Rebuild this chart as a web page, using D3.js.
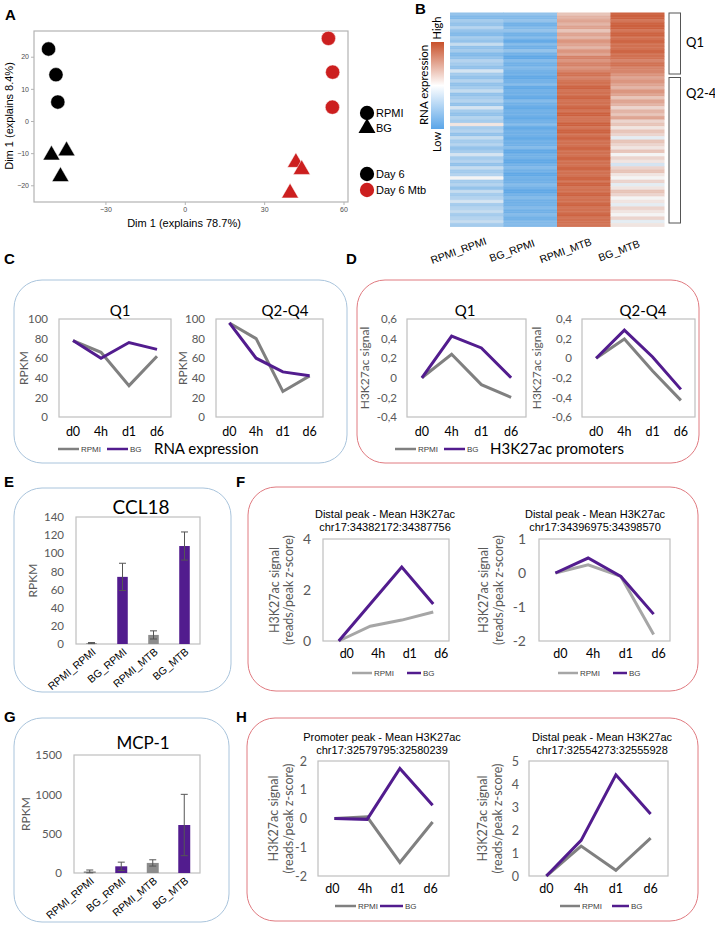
<!DOCTYPE html>
<html><head><meta charset="utf-8">
<script src="https://cdn.jsdelivr.net/npm/d3@7"></script>
<style>body{margin:0;background:#fff}svg{display:block}</style>
</head><body>
<svg id="fig" width="715" height="927"></svg>
<script>
// ---------------- DATA ----------------
// Panel A (PCA)
const pcaX = [-51.5, -48.7, -48.0, -50.4, -44.7, -47.0, 54.3, 55.9, 55.8, 42.0, 44.2, 39.8];
const pcaY = [22.4, 14.4, 5.9, -10.6, -9.3, -17.3, 25.7, 15.2, 4.3, -12.9, -15.1, -22.4];
const pcaShape = ["circle","circle","circle","triangle","triangle","triangle","circle","circle","circle","triangle","triangle","triangle"];
const pcaGroup = ["Day 6","Day 6","Day 6","Day 6","Day 6","Day 6","Day 6 Mtb","Day 6 Mtb","Day 6 Mtb","Day 6 Mtb","Day 6 Mtb","Day 6 Mtb"];
const pcaXTicks = [-30, 0, 30, 60];
const pcaYTicks = [-20, -10, 0, 10, 20];

// Panel B (heatmap), relative expression per row (-1 low .. 1 high)
const heatColumns = ["RPMI_RPMI","BG_RPMI","RPMI_MTB","BG_MTB"];
const heatRPMI_RPMI = [-0.6,-0.7,-0.5,-0.6,-0.4,-0.6,-0.7,-0.5,-0.6,-0.3,-0.6,-0.5,-0.7,-0.6,-0.4,-0.5,-0.6,-0.2,
  -0.5,-0.6,-0.4,-0.6,-0.5,-0.3,-0.6,-0.5,-0.4,-0.6,-0.2,-0.5,-0.6,-0.4,-0.5,0.1,-0.5,-0.4,
  -0.6,-0.3,-0.5,-0.4,-0.6,-0.5,-0.2,-0.5,-0.4,-0.6,-0.3,-0.5,-0.4,0.0,-0.5,-0.4,-0.6,-0.3,
  -0.5,-0.4,-0.2,-0.5,-0.4,-0.3,-0.5,-0.4,-0.3,-0.5];
const heatBG_RPMI = [-0.6,-0.7,-0.6,-0.8,-0.7,-0.6,-0.8,-0.7,-0.9,-0.7,-0.8,-0.6,-0.8,-0.9,-0.7,-0.8,-0.7,-0.8,
  -0.8,-0.9,-0.8,-0.7,-0.9,-0.8,-0.8,-0.9,-0.7,-0.8,-0.9,-0.8,-0.8,-0.9,-0.8,-0.7,-0.9,-0.8,
  -0.8,-0.9,-0.8,-0.8,-0.7,-0.9,-0.8,-0.8,-0.9,-0.8,-0.7,-0.8,-0.9,-0.8,-0.8,-0.7,-0.8,-0.9,
  -0.8,-0.7,-0.8,-0.8,-0.7,-0.8,-0.7,-0.8,-0.7,-0.7];
const heatRPMI_MTB = [0.3,0.4,0.5,0.4,0.5,0.3,0.5,0.4,0.6,0.5,0.4,0.6,0.5,0.7,0.6,0.7,0.6,0.7,
  0.8,0.7,0.8,0.8,0.9,0.8,0.8,0.9,0.8,0.8,0.9,0.8,0.9,0.8,0.8,0.9,0.8,0.9,
  0.8,0.9,0.8,0.8,0.9,0.8,0.8,0.9,0.8,0.8,0.9,0.8,0.8,0.9,0.8,0.9,0.8,0.8,
  0.9,0.8,0.8,0.9,0.8,0.8,0.9,0.8,0.8,0.8];
const heatBG_MTB = [0.9,0.9,0.8,0.9,0.9,0.8,0.9,0.8,0.9,0.8,0.8,0.9,0.8,0.8,0.7,0.8,0.7,0.7,
  0.6,0.5,0.6,0.5,0.4,0.6,0.5,0.3,0.5,0.4,0.2,0.4,0.3,0.5,0.2,0.3,0.1,0.3,
  0.2,-0.1,0.3,0.2,0.1,0.3,0.0,0.2,0.1,-0.2,0.2,0.3,0.1,0.0,0.2,-0.1,0.1,0.3,
  0.2,0.0,0.1,-0.1,0.2,0.1,0.0,0.2,-0.1,0.1];
const heatGroups = ["Q1","Q2-4"];

// Line panels
const timepoints = ["d0","4h","d1","d6"];
const cQ1_RPMI = [78, 66, 32, 62],   cQ1_BG = [78, 60, 76, 69];
const cQ24_RPMI = [96, 80, 26, 42],  cQ24_BG = [96, 60, 46, 42];
const dQ1_RPMI = [0, 0.24, -0.07, -0.2],  dQ1_BG = [0, 0.425, 0.305, 0];
const dQ24_RPMI = [0, 0.195, -0.13, -0.43], dQ24_BG = [0, 0.287, 0.013, -0.318];
const fL_RPMI = [0, 0.58, 0.82, 1.14], fL_BG = [0, 1.45, 2.9, 1.45];
const fR_RPMI = [0, 0.24, -0.1, -1.81], fR_BG = [0, 0.44, -0.1, -1.21];
const hL_RPMI = [0, 0.06, -1.53, -0.12], hL_BG = [0, -0.03, 1.74, 0.46];
const hR_RPMI = [0, 1.3, 0.25, 1.65], hR_BG = [0, 1.55, 4.4, 2.7];

// Bar panels
const barCategories = ["RPMI_RPMI","BG_RPMI","RPMI_MTB","BG_MTB"];
const ccl18Values = [1, 74, 10, 108], ccl18Err = [0.6, 15, 4.5, 15.5];
const mcp1Values = [20, 85, 128, 610], mcp1Err = [18, 53, 40, 390];

// ---------------- DRAW ----------------
const svg = d3.select("#fig");
const ARIAL = "'Liberation Sans', Arial, sans-serif";
const CAL = "Lato, 'Open Sans', sans-serif";
const PURPLE = "#521c8e", GREY = "#808080", TICK = "#595959";

function panelLabel(t, x, y) {
  svg.append("text").attr("x", x).attr("y", y).text(t)
    .attr("font-family", ARIAL).attr("font-weight", "bold").attr("font-size", 15).attr("fill", "#000");
}
function box(x0, y0, x1, y1, color) {
  svg.append("rect").attr("x", x0).attr("y", y0).attr("width", x1 - x0).attr("height", y1 - y0)
    .attr("rx", 28).attr("ry", 28).attr("fill", "none").attr("stroke", color).attr("stroke-width", 1);
}

// ---- Panel A ----
panelLabel("A", 5, 20);
{
  const x = d3.scaleLinear().domain([-57, 61.7]).range([34, 348]);
  const y = d3.scaleLinear().domain([-25.2, 28]).range([202, 31]);
  const g = svg.append("g");
  g.append("rect").attr("x", 34).attr("y", 31).attr("width", 314).attr("height", 171)
    .attr("fill", "#fff").attr("stroke", "#b3b3b3").attr("stroke-width", 1.2);
  const ax = g.append("g").attr("transform", "translate(0,202)")
    .call(d3.axisBottom(x).tickValues(pcaXTicks).tickSize(3).tickSizeOuter(0).tickPadding(2));
  const ay = g.append("g").attr("transform", "translate(34,0)")
    .call(d3.axisLeft(y).tickValues(pcaYTicks).tickSize(3).tickSizeOuter(0).tickPadding(2));
  [ax, ay].forEach(a => {
    a.select(".domain").remove();
    a.selectAll("line").attr("stroke", "#b3b3b3");
    a.selectAll("text").attr("font-family", ARIAL).attr("font-size", 7).attr("fill", "#4d4d4d");
  });
  const sym = d3.symbol();
  pcaX.forEach((v, i) => {
    const tri = pcaShape[i] === "triangle";
    g.append("path")
      .attr("d", sym.type(tri ? d3.symbolTriangle : d3.symbolCircle).size(tri ? 125 : 160)())
      .attr("transform", `translate(${x(v)},${y(pcaY[i])})`)
      .attr("fill", pcaGroup[i] === "Day 6" ? "#000" : "#cc1f1f")
      .attr("stroke", "#fff").attr("stroke-width", 0.5);
  });
  svg.append("text").attr("transform", "translate(13,116) rotate(-90)").attr("text-anchor", "middle")
    .attr("font-family", ARIAL).attr("font-size", 11).text("Dim 1 (explains 8.4%)");
  svg.append("text").attr("x", 184).attr("y", 227).attr("text-anchor", "middle")
    .attr("font-family", ARIAL).attr("font-size", 11).text("Dim 1 (explains 78.7%)");
  // legend
  const leg = [["circle", "#000", "RPMI", 113], ["triangle", "#000", "BG", 128], ["circle", "#000", "Day 6", 174], ["circle", "#cc1f1f", "Day 6 Mtb", 190]];
  leg.forEach(l => {
    const tri = l[0] === "triangle";
    svg.append("path").attr("d", sym.type(tri ? d3.symbolTriangle : d3.symbolCircle).size(tri ? 125 : 160)())
      .attr("transform", `translate(367,${l[3]})`).attr("fill", l[1]);
    svg.append("text").attr("x", 376).attr("y", l[3] + 4).attr("font-family", ARIAL).attr("font-size", 11).text(l[2]);
  });
}

// ---- Panel B ----
panelLabel("B", 415, 14);
{
  const cols = [heatRPMI_RPMI, heatBG_RPMI, heatRPMI_MTB, heatBG_MTB];
  const color = d3.scaleLinear().domain([-1, 0, 1]).range(["#4f9fe4", "#f4f4f4", "#c8502a"]);
  const x = d3.scaleBand().domain(heatColumns).range([450, 664]);
  const nRows = heatBG_MTB.length;
  const y = d3.scaleBand().domain(d3.range(nRows)).range([12.5, 226.5]);
  const g = svg.append("g");
  heatColumns.forEach((c, ci) => {
    g.selectAll(null).data(cols[ci]).join("rect")
      .attr("x", x(c)).attr("width", x.bandwidth() + 0.5)
      .attr("y", (d, i) => y(i)).attr("height", y.bandwidth() + 0.4)
      .attr("fill", d => color(d));
  });
  // thin row striping for texture
  g.selectAll(null).data(d3.range(nRows)).join("line")
    .attr("x1", 450).attr("x2", 664)
    .attr("y1", i => y(i) + y.bandwidth() * 0.5).attr("y2", i => y(i) + y.bandwidth() * 0.5)
    .attr("stroke", "#fff").attr("stroke-opacity", 0.1).attr("stroke-width", 0.8);
  // colour bar
  const defs = svg.append("defs");
  const grad = defs.append("linearGradient").attr("id", "cb").attr("x1", 0).attr("y1", 1).attr("x2", 0).attr("y2", 0);
  [[0, "#5aa5e8"], [0.5, "#ffffff"], [1, "#c8502a"]].forEach(s => grad.append("stop").attr("offset", s[0]).attr("stop-color", s[1]));
  svg.append("rect").attr("x", 431).attr("y", 42).attr("width", 13).attr("height", 87).attr("fill", "url(#cb)");
  svg.append("text").attr("transform", "translate(441,28) rotate(-90)").attr("text-anchor", "middle")
    .attr("font-family", CAL).attr("font-size", 11).text("High");
  svg.append("text").attr("transform", "translate(441,142) rotate(-90)").attr("text-anchor", "middle")
    .attr("font-family", CAL).attr("font-size", 11).text("Low");
  svg.append("text").attr("transform", "translate(428,85) rotate(-90)").attr("text-anchor", "middle")
    .attr("font-family", CAL).attr("font-size", 11.5).text("RNA expression");
  // brackets
  const yg = d3.scaleOrdinal().domain(heatGroups).range([[13, 74], [77.5, 223]]);
  heatGroups.forEach(gr => {
    const r = yg(gr);
    svg.append("rect").attr("x", 669).attr("y", r[0]).attr("width", 11.5).attr("height", r[1] - r[0])
      .attr("fill", "none").attr("stroke", "#555").attr("stroke-width", 1);
  });
  svg.append("text").attr("x", 686).attr("y", 47).attr("font-family", CAL).attr("font-size", 13).text(heatGroups[0]);
  svg.append("text").attr("x", 686).attr("y", 98).attr("font-family", CAL).attr("font-size", 13).text(heatGroups[1]);
  heatColumns.forEach(c => {
    const cx = x(c) + x.bandwidth() / 2;
    svg.append("text").attr("transform", `translate(${cx - 17},${254}) rotate(-20)`).attr("text-anchor", "middle")
      .attr("font-family", ARIAL).attr("font-size", 10.5).text(c);
  });
}

// ---- generic line chart ----
function fmtComma(v) { return Math.abs(v) < 1e-9 ? "0" : v.toFixed(1).replace(".", ","); }
function lineChart(o) {
  const x = d3.scalePoint().domain(timepoints).range([o.x0, o.x1]).padding(0.5);
  const y = d3.scaleLinear().domain(o.domain).range([o.y1, o.y0]);
  const g = svg.append("g");
  g.append("rect").attr("x", o.x0).attr("y", o.y0).attr("width", o.x1 - o.x0).attr("height", o.y1 - o.y0)
    .attr("fill", "none").attr("stroke", "#bfbfbf").attr("stroke-width", 1.2);
  const ay = g.append("g").attr("transform", `translate(${o.x0},0)`)
    .call(d3.axisLeft(y).tickValues(o.ticks).tickSize(0).tickPadding(o.tickPad || 11).tickFormat(o.fmt || (d => d)));
  ay.select(".domain").remove();
  ay.selectAll("text").attr("font-family", CAL).attr("font-size", o.tickSize || 11.5).attr("fill", TICK);
  timepoints.forEach(t => {
    g.append("text").attr("x", x(t) + (o.xdx || 0)).attr("y", o.xlabelY).attr("text-anchor", "middle")
      .attr("font-family", CAL).attr("font-size", 12.5).attr("fill", "#000").text(t);
  });
  const line = d3.line().x((d, i) => x(timepoints[i])).y(d => y(d));
  g.append("path").attr("d", line(o.rpmi)).attr("fill", "none").attr("stroke", o.greyColor || GREY)
    .attr("stroke-width", 3).attr("stroke-linejoin", "miter");
  g.append("path").attr("d", line(o.bg)).attr("fill", "none").attr("stroke", PURPLE)
    .attr("stroke-width", 3).attr("stroke-linejoin", "miter");
  if (o.title) {
    o.title.forEach((t, i) => {
      g.append("text").attr("x", o.titleX).attr("y", o.titleY + i * 13).attr("text-anchor", "middle")
        .attr("font-family", o.titleFont || CAL).attr("font-size", o.titleSize || 15).text(t);
    });
  }
  const cy = (o.y0 + o.y1) / 2;
  o.ytitle.forEach((t, i) => {
    g.append("text").attr("transform", `translate(${o.ytitleX[i]},${cy}) rotate(-90)`).attr("text-anchor", "middle")
      .attr("font-family", CAL).attr("font-size", o.ytitleSize || 12).attr("fill", TICK).text(t);
  });
  if (o.legend) legend(o.legend, o.greyColor);
}
function legend(L, gc) {
  svg.append("line").attr("x1", L.g[0]).attr("x2", L.g[1]).attr("y1", L.y).attr("y2", L.y).attr("stroke", gc || GREY).attr("stroke-width", 2.5);
  svg.append("text").attr("x", L.g[1] + 2).attr("y", L.y + 3).attr("font-family", ARIAL).attr("font-size", 8).attr("fill", "#404040").text("RPMI");
  svg.append("line").attr("x1", L.b[0]).attr("x2", L.b[1]).attr("y1", L.y).attr("y2", L.y).attr("stroke", PURPLE).attr("stroke-width", 2.5);
  svg.append("text").attr("x", L.b[1] + 2).attr("y", L.y + 3).attr("font-family", ARIAL).attr("font-size", 8).attr("fill", "#404040").text("BG");
}

// ---- Panel C ----
panelLabel("C", 4, 264);
box(14, 280, 347, 463, "#a9c4dc");
lineChart({ x0: 59, x1: 171, y0: 319, y1: 417, domain: [0, 100], ticks: [0, 20, 40, 60, 80, 100],
  rpmi: cQ1_RPMI, bg: cQ1_BG, title: ["Q1"], titleX: 120, titleY: 316, xlabelY: 436,
  ytitle: ["RPKM"], ytitleX: [28], legend: { y: 449, g: [58, 79], b: [107, 128] } });
lineChart({ x0: 216, x1: 323, y0: 319, y1: 417, domain: [0, 100], ticks: [0, 20, 40, 60, 80, 100],
  rpmi: cQ24_RPMI, bg: cQ24_BG, title: ["Q2-Q4"], titleX: 285, titleY: 316, xlabelY: 436,
  ytitle: ["RPKM"], ytitleX: [187] });
svg.append("text").attr("x", 154).attr("y", 454).attr("font-family", CAL).attr("font-size", 15).text("RNA expression");

// ---- Panel D ----
panelLabel("D", 346, 264);
box(357, 280, 699, 463, "#e07a80");
lineChart({ x0: 407, x1: 526, y0: 319, y1: 417, domain: [-0.4, 0.6], ticks: [-0.4, -0.2, 0, 0.2, 0.4, 0.6], fmt: fmtComma,
  rpmi: dQ1_RPMI, bg: dQ1_BG, title: ["Q1"], titleX: 465, titleY: 316, xlabelY: 436,
  ytitle: ["H3K27ac signal"], ytitleX: [369], tickPad: 10, legend: { y: 449, g: [395, 416], b: [444, 465] } });
lineChart({ x0: 582, x1: 695, y0: 319, y1: 417, domain: [-0.6, 0.4], ticks: [-0.6, -0.4, -0.2, 0, 0.2, 0.4], fmt: fmtComma,
  rpmi: dQ24_RPMI, bg: dQ24_BG, title: ["Q2-Q4"], titleX: 643, titleY: 316, xlabelY: 436,
  ytitle: ["H3K27ac signal"], ytitleX: [541], tickPad: 10 });
svg.append("text").attr("x", 490).attr("y", 454).attr("font-family", CAL).attr("font-size", 15).text("H3K27ac promoters");

// ---- bar charts ----
function barChart(o) {
  const x = d3.scaleBand().domain(barCategories).range([o.x0, o.x1]).paddingInner(o.pad).paddingOuter(o.pad / 2);
  const y = d3.scaleLinear().domain(o.domain).range([o.y1, o.y0]);
  const g = svg.append("g");
  g.append("rect").attr("x", o.x0).attr("y", o.y0).attr("width", o.x1 - o.x0).attr("height", o.y1 - o.y0)
    .attr("fill", "none").attr("stroke", "#bfbfbf").attr("stroke-width", 1.2);
  const ay = g.append("g").attr("transform", `translate(${o.x0},0)`)
    .call(d3.axisLeft(y).tickValues(o.ticks).tickSize(0).tickPadding(o.tickPad).tickFormat(d3.format("d")));
  ay.select(".domain").remove();
  ay.selectAll("text").attr("font-family", CAL).attr("font-size", 11.5).attr("fill", TICK);
  g.selectAll(null).data(o.values).join("rect")
    .attr("x", (d, i) => x(barCategories[i])).attr("width", x.bandwidth())
    .attr("y", d => y(d)).attr("height", d => y(0) - y(d))
    .attr("fill", (d, i) => barCategories[i].startsWith("BG") ? PURPLE : "#8c8c8c");
  o.values.forEach((v, i) => {
    const cx = x(barCategories[i]) + x.bandwidth() / 2;
    const e = o.err[i];
    const t = y(v + e), b = y(Math.max(0, v - e));
    g.append("line").attr("x1", cx).attr("x2", cx).attr("y1", t).attr("y2", b).attr("stroke", "#555").attr("stroke-width", 1);
    [t, b].forEach(yy => g.append("line").attr("x1", cx - 3.5).attr("x2", cx + 3.5).attr("y1", yy).attr("y2", yy).attr("stroke", "#555").attr("stroke-width", 1));
    g.append("text").attr("transform", `translate(${cx + 5},${o.y1 + 9}) rotate(-40)`).attr("text-anchor", "end")
      .attr("font-family", ARIAL).attr("font-size", 10.5).text(barCategories[i]);
  });
  g.append("text").attr("x", o.titleX).attr("y", o.titleY).attr("text-anchor", "middle")
    .attr("font-family", CAL).attr("font-size", o.titleSize).text(o.title);
  g.append("text").attr("transform", `translate(${o.ytitleX},${(o.y0 + o.y1) / 2}) rotate(-90)`).attr("text-anchor", "middle")
    .attr("font-family", CAL).attr("font-size", 12).attr("fill", TICK).text("RPKM");
}

// ---- Panel E ----
panelLabel("E", 4, 487);
box(14, 488, 231, 692, "#a9c4dc");
barChart({ x0: 76, x1: 200, y0: 517, y1: 644, domain: [0, 140], ticks: d3.range(0, 141, 20), pad: 0.66,
  values: ccl18Values, err: ccl18Err, title: "CCL18", titleX: 141, titleY: 514, titleSize: 19, ytitleX: 37, tickPad: 12 });

// ---- Panel G ----
panelLabel("G", 4, 722);
box(14, 718, 229, 922, "#a9c4dc");
barChart({ x0: 74, x1: 200, y0: 755, y1: 873, domain: [0, 1500], ticks: [0, 500, 1000, 1500], pad: 0.62,
  values: mcp1Values, err: mcp1Err, title: "MCP-1", titleX: 143, titleY: 749, titleSize: 17, ytitleX: 30, tickPad: 12 });

// ---- Panel F ----
panelLabel("F", 236, 487);
box(248, 487, 698, 691, "#e07a80");
lineChart({ x0: 323, x1: 449, y0: 539, y1: 641, domain: [0, 4], ticks: [0, 2, 4], tickSize: 14, tickPad: 12,
  rpmi: fL_RPMI, bg: fL_BG, title: ["Distal peak - Mean H3K27ac", "chr17:34382172:34387756"], titleX: 385, titleY: 518,
  titleFont: ARIAL, titleSize: 11, xlabelY: 658, xdx: 8, greyColor: "#a6a6a6",
  ytitle: ["H3K27ac signal", "(reads/peak z-score)"], ytitleX: [279, 293], ytitleSize: 12.5,
  legend: { y: 673, g: [352, 372], b: [407, 421] } });
lineChart({ x0: 539, x1: 670, y0: 539, y1: 641, domain: [-2, 1], ticks: [-2, -1, 0, 1], tickSize: 14, tickPad: 13,
  rpmi: fR_RPMI, bg: fR_BG, title: ["Distal peak - Mean H3K27ac", "chr17:34396975:34398570"], titleX: 595, titleY: 518,
  titleFont: ARIAL, titleSize: 11, xlabelY: 658, xdx: 5, greyColor: "#a6a6a6",
  ytitle: ["H3K27ac signal", "(reads/peak z-score)"], ytitleX: [488, 503], ytitleSize: 12.5,
  legend: { y: 673, g: [558, 578], b: [613, 627] } });

// ---- Panel H ----
panelLabel("H", 236, 722);
box(247, 718, 698, 921, "#e07a80");
lineChart({ x0: 318, x1: 449, y0: 761, y1: 876, domain: [-2, 2], ticks: [-2, -1, 0, 1, 2], tickSize: 12.5, tickPad: 11,
  rpmi: hL_RPMI, bg: hL_BG, title: ["Promoter peak - Mean H3K27ac", "chr17:32579795:32580239"], titleX: 382, titleY: 741,
  titleFont: ARIAL, titleSize: 11, xlabelY: 893, xdx: -2,
  ytitle: ["H3K27ac signal", "(reads/peak z-score)"], ytitleX: [278, 293], ytitleSize: 12.5,
  legend: { y: 906, g: [335, 356], b: [380, 403] } });
lineChart({ x0: 529, x1: 668, y0: 761, y1: 876, domain: [0, 5], ticks: [0, 1, 2, 3, 4, 5], tickSize: 12.5, tickPad: 10,
  rpmi: hR_RPMI, bg: hR_BG, title: ["Distal peak - Mean H3K27ac", "chr17:32554273:32555928"], titleX: 602, titleY: 741,
  titleFont: ARIAL, titleSize: 11, xlabelY: 893,
  ytitle: ["H3K27ac signal", "(reads/peak z-score)"], ytitleX: [487, 502], ytitleSize: 12.5,
  legend: { y: 906, g: [560, 580], b: [612, 629] } });
</script>
</body></html>
